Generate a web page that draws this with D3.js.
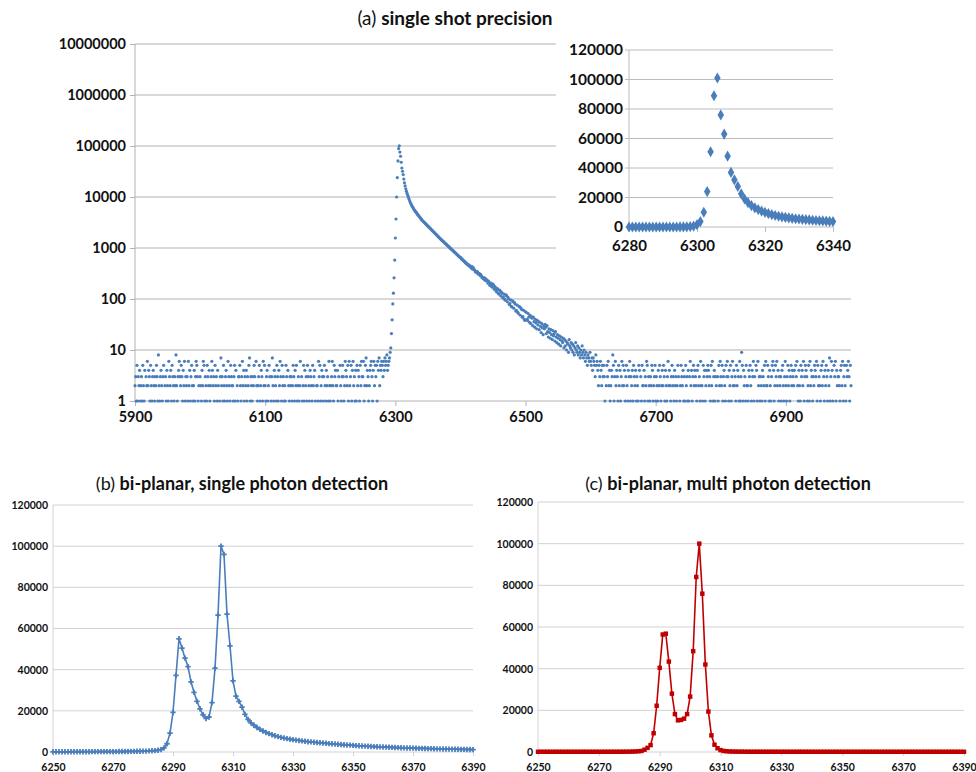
<!DOCTYPE html>
<html>
<head>
<meta charset="utf-8">
<script src="https://cdn.jsdelivr.net/npm/d3@7"></script>
<style>
  body { margin: 0; background: #fff; }
</style>
</head>
<body>
<div id="chart"></div>
<script>
const width = 976, height = 772;
const FONT = "Lato, 'Open Sans', sans-serif";

// ---- (a) single shot precision: counts per unit step ----
// noise floor 5900..6291, one digit per step (0 = no count)
const noiseLeftStart = 5900;
const noiseLeft =
  "2315132412" + "3152140326" + "2431521342" + "1325318213" + "4213502314" +
  "2163241532" + "1328213463" + "2531426132" + "3162413521" + "2413653120" +
  "3214265132" + "1532412364" + "2315231420" + "1372315213" + "4216321532" +
  "2135140213" + "3521362413" + "2413257132" + "1325306212" + "3512431625" +
  "2134125301" + "3721432153" + "1426315231" + "2153042132" + "3125314251" +
  "2312603125" + "1423153214" + "3215234102" + "2163512431" + "3521423162" +
  "1236215342" + "2413052135" + "3126432516" + "2351462314" + "1524315263" +
  "3612572431" + "2456314625" + "3516472546" + "5364756845" + "67";

// rise, peak and exponential tail 6292..6590
const peakStart = 6292;
const peakCounts = [
  9, 11, 21, 39, 80, 130, 260, 580, 1570, 3700,
  10000, 24000, 51000, 89000, 101000, 76000, 63000, 48000, 37000, 32000,
  27500, 22500, 19000, 16500, 14500, 13000, 11800, 10800, 9900, 9100,
  8400, 7800, 7300, 6900, 6500, 6200, 5900, 5600, 5400, 5200,
  5000, 4800, 4600, 4400, 4250, 4100, 3950, 3800, 3650, 3520,
  3420, 3310, 3220, 3120, 3030, 2940, 2850, 2770, 2690, 2610,
  2530, 2460, 2390, 2320, 2250, 2180, 2120, 2050, 1995, 1940,
  1880, 1830, 1770, 1720, 1670, 1620, 1570, 1530, 1480, 1440,
  1400, 1360, 1330, 1290, 1250, 1220, 1190, 1150, 1120, 1090,
  1065, 1030, 1005, 975, 950, 925, 900, 875, 850, 830,
  805, 785, 760, 740, 720, 700, 680, 665, 645, 640,
  605, 600, 570, 565, 540, 535, 510, 505, 485, 470,
  480, 450, 440, 445, 420, 400, 430, 385, 410, 375,
  365, 340, 350, 330, 345, 310, 320, 315, 290, 305,
  285, 265, 270, 250, 262, 238, 255, 228, 240, 232,
  205, 225, 215, 185, 195, 205, 175, 170, 195, 185,
  155, 175, 165, 140, 150, 160, 130, 125, 150, 145,
  115, 135, 130, 105, 110, 125, 98, 95, 120, 115,
  88, 108, 100, 78, 82, 96, 72, 70, 92, 88,
  66, 85, 80, 58, 60, 76, 55, 52, 72, 70,
  48, 66, 62, 44, 45, 60, 40, 38, 56, 55,
  40, 38, 52, 44, 35, 48, 33, 45, 42, 30,
  44, 36, 28, 40, 34, 26, 38, 31, 36, 25,
  35, 29, 22, 33, 27, 20, 30, 26, 32, 28,
  21, 30, 23, 18, 26, 22, 17, 25, 20, 16,
  24, 19, 21, 15, 23, 18, 14, 20, 17, 13,
  19, 16, 12, 18, 15, 14, 17, 11, 16, 12,
  15, 10, 14, 13, 9, 16, 12, 11, 14, 10,
  13, 9, 12, 8, 11, 14, 10, 9, 12, 8,
  11, 9, 7, 10, 8, 12, 9, 7, 10
];

// noise floor 6591..7000
const noiseRightStart = 6591;
const noiseRight =
  "8697587696" + "5747653856" + "4253642535" + "3102536241" + "2438513624" +
  "3152413625" + "2413521436" + "1324153241" + "3215403152" + "2413265132" +
  "1325412351" + "3214253124" + "2531421362" + "4213523142" + "3125301253" +
  "2413152314" + "1362413524" + "3214523162" + "2153412435" + "4231526134" +
  "1320315263" + "2513421536" + "3142513624" + "2315243161" + "3951423152" +
  "2143521436" + "1305416231" + "3214325162" + "2531421356" + "4125362413" +
  "2314521362" + "1352413524" + "3240536214" + "2153426135" + "4312516243" +
  "1325436152" + "3214526314" + "2531427136" + "4105361423" + "3214526135" +
  "2153463152";

const mainXTicks = [5900, 6100, 6300, 6500, 6700, 6900];
const mainYTicks = [1, 10, 100, 1000, 10000, 100000, 1000000, 10000000];
const insetXTicks = [6280, 6300, 6320, 6340];
const insetYTicks = [0, 20000, 40000, 60000, 80000, 100000, 120000];

// ---- (b) and (c): 6250..6390 ----
const bcStart = 6250;
const singlePhoton = [
  100, 100, 100, 110, 110, 110, 120, 120, 120, 130,
  130, 140, 140, 150, 150, 160, 160, 170, 180, 190,
  200, 210, 220, 240, 250, 270, 290, 310, 340, 370,
  400, 450, 520, 600, 700, 850, 1130, 2000, 4000, 9200,
  19200, 37200, 55000, 50500, 45600, 41500, 34100, 29000, 24600, 21000,
  18100, 16300, 17000, 24000, 40700, 66500, 100000, 96000, 67000, 51600,
  34600, 27100, 24600, 21800, 18300, 15800, 14200, 13000, 11900, 11000,
  10200, 9500, 8900, 8400, 7900, 7500, 7100, 6800, 6500, 6200,
  6000, 5800, 5600, 5400, 5200, 5000, 4900, 4750, 4600, 4500,
  4400, 4250, 4100, 3980, 3860, 3740, 3630, 3520, 3410, 3310,
  3200, 3110, 3020, 2930, 2850, 2770, 2690, 2620, 2550, 2480,
  2420, 2360, 2300, 2240, 2180, 2120, 2070, 2020, 1970, 1920,
  1870, 1830, 1790, 1750, 1710, 1670, 1630, 1590, 1550, 1510,
  1480, 1450, 1420, 1390, 1360, 1330, 1300, 1270, 1240, 1210,
  1180
];
const multiPhoton = [
  100, 100, 100, 100, 100, 100, 100, 100, 100, 100,
  100, 100, 100, 100, 100, 100, 100, 100, 100, 100,
  100, 100, 100, 100, 110, 110, 120, 120, 130, 140,
  150, 200, 250, 350, 500, 1100, 2000, 3300, 9000, 22200,
  40400, 56400, 56800, 43400, 28000, 18200, 15200, 15400, 16000, 18200,
  26600, 48400, 84000, 100000, 76000, 42000, 19400, 8000, 3500, 1800,
  900, 500, 350, 250, 200, 180, 160, 150, 140, 130,
  120, 120, 120, 120, 120, 120, 120, 120, 120, 120,
  110, 110, 110, 110, 110, 110, 110, 110, 110, 110,
  100, 100, 100, 100, 100, 100, 100, 100, 100, 100,
  100, 100, 100, 100, 100, 100, 100, 100, 100, 100,
  100, 100, 100, 100, 100, 100, 100, 100, 100, 100,
  100, 100, 100, 100, 100, 100, 100, 100, 100, 100,
  100, 100, 100, 100, 100, 100, 100, 100, 100, 100,
  100
];
const bcXTicks = [6250, 6270, 6290, 6310, 6330, 6350, 6370, 6390];
const bcYTicks = [0, 20000, 40000, 60000, 80000, 100000, 120000];

const blue = "#4a7ebb", red = "#c00000";

// build the (a) series
let mainData = [];
for (let i = 0; i < noiseLeft.length; i++) {
  const v = +noiseLeft[i];
  if (v > 0) mainData.push({ x: noiseLeftStart + i, y: v });
}
peakCounts.forEach((v, i) => mainData.push({ x: peakStart + i, y: v }));
for (let i = 0; i < noiseRight.length; i++) {
  const v = +noiseRight[i];
  if (v > 0) mainData.push({ x: noiseRightStart + i, y: v });
}

const svg = d3.select("#chart")
  .append("svg")
  .attr("width", width)
  .attr("height", height)
  .attr("viewBox", [0, 0, width, height])
  .style("font-family", FONT);

function title(x, y, tag, rest, size) {
  const t = svg.append("text").attr("x", x).attr("y", y)
    .attr("text-anchor", "middle").attr("fill", "#111")
    .style("font-size", size + "px");
  t.append("tspan").text(tag + " ");
  t.append("tspan").text(rest).style("font-weight", "bold");
}

function styleAxis(g, size, tickColor) {
  g.attr("font-family", FONT).attr("font-size", size);
  g.select(".domain").remove();
  g.selectAll(".tick line").attr("stroke", tickColor);
  g.selectAll(".tick text").attr("fill", "#111").style("font-weight", "bold");
}

// ================= (a) main log chart =================
title(455, 25, "(a)", "single shot precision", 19);

const xa = d3.scaleLinear().domain([5900, 7000]).range([135, 851]);
const ya = d3.scaleLog().domain([1, 1e7]).range([401, 44]);
const gridA = "#b2b2b2";

svg.append("g").selectAll("line")
  .data(mainYTicks)
  .join("line")
  .attr("x1", 135).attr("x2", 851)
  .attr("y1", d => ya(d)).attr("y2", d => ya(d))
  .attr("stroke", gridA);

svg.append("line")
  .attr("x1", 135).attr("x2", 135)
  .attr("y1", ya(1e7)).attr("y2", ya(1))
  .attr("stroke", gridA);

svg.append("g")
  .attr("transform", "translate(135,0)")
  .call(d3.axisLeft(ya).tickValues(mainYTicks).tickFormat(d3.format("d")).tickSize(5).tickPadding(4))
  .call(g => styleAxis(g, 14.5, gridA));

svg.append("g")
  .attr("transform", `translate(0,${ya(1)})`)
  .call(d3.axisBottom(xa).tickValues(mainXTicks).tickFormat(d3.format("d")).tickSize(5).tickPadding(6))
  .call(g => styleAxis(g, 14.5, gridA));

svg.append("g")
  .selectAll("circle")
  .data(mainData)
  .join("circle")
  .attr("cx", d => xa(d.x))
  .attr("cy", d => ya(d.y))
  .attr("r", 1.6)
  .attr("fill", blue);

// ---- inset (linear) ----
svg.append("rect")
  .attr("x", 556).attr("y", 33).attr("width", 310).attr("height", 234)
  .attr("fill", "#fff");

const xi = d3.scaleLinear().domain([6280, 6340]).range([629, 833]);
const yi = d3.scaleLinear().domain([0, 120000]).range([227, 50]);
const insetData = mainData.filter(d => d.x >= 6280 && d.x <= 6340);

svg.append("g").selectAll("line")
  .data(insetYTicks)
  .join("line")
  .attr("x1", 625).attr("x2", 833)
  .attr("y1", d => yi(d)).attr("y2", d => yi(d))
  .attr("stroke", "#bcbcbc");

svg.append("line")
  .attr("x1", 629).attr("x2", 629)
  .attr("y1", yi(120000)).attr("y2", yi(0))
  .attr("stroke", "#bcbcbc");

svg.append("g")
  .attr("transform", "translate(629,0)")
  .call(d3.axisLeft(yi).tickValues(insetYTicks).tickFormat(d3.format("d")).tickSize(0).tickPadding(6))
  .call(g => styleAxis(g, 15.5, "#bcbcbc"));

svg.append("g")
  .attr("transform", `translate(0,${yi(0)})`)
  .call(d3.axisBottom(xi).tickValues(insetXTicks).tickFormat(d3.format("d")).tickSize(5).tickPadding(8))
  .call(g => styleAxis(g, 15, "#bcbcbc"));

svg.append("g")
  .selectAll("path")
  .data(insetData)
  .join("path")
  .attr("transform", d => `translate(${xi(d.x)},${yi(d.y)})`)
  .attr("d", d3.symbol(d3.symbolDiamond, 36))
  .attr("fill", blue);

// ================= (b) and (c) line panels =================
function linePanel(cfg) {
  const x = d3.scaleLinear().domain([6250, 6390]).range([cfg.left, cfg.right]);
  const y = d3.scaleLinear().domain([0, 120000]).range([cfg.bottom, cfg.top]);
  const data = cfg.values.map((v, i) => ({ x: bcStart + i, y: v }));
  const grid = "#d2d2d2";

  svg.append("g").selectAll("line")
    .data(bcYTicks)
    .join("line")
    .attr("x1", cfg.left).attr("x2", cfg.right)
    .attr("y1", d => y(d)).attr("y2", d => y(d))
    .attr("stroke", grid);

  svg.append("line")
    .attr("x1", cfg.left).attr("x2", cfg.left)
    .attr("y1", cfg.top).attr("y2", cfg.bottom)
    .attr("stroke", grid);

  svg.append("g")
    .attr("transform", `translate(${cfg.left},0)`)
    .call(d3.axisLeft(y).tickValues(bcYTicks).tickFormat(d3.format("d")).tickSize(0).tickPadding(5))
    .call(g => styleAxis(g, 10.5, grid));

  svg.append("g")
    .attr("transform", `translate(0,${cfg.bottom})`)
    .call(d3.axisBottom(x).tickValues(bcXTicks).tickFormat(d3.format("d")).tickSize(4).tickPadding(8))
    .call(g => styleAxis(g, 10.5, grid));

  svg.append("path")
    .datum(data)
    .attr("fill", "none")
    .attr("stroke", cfg.color)
    .attr("stroke-width", 1.6)
    .attr("d", d3.line().x(d => x(d.x)).y(d => y(d.y)));

  svg.append("g")
    .selectAll("path")
    .data(data)
    .join("path")
    .attr("transform", d => `translate(${x(d.x)},${y(d.y)})`)
    .attr("d", d3.symbol(cfg.symbol, cfg.size))
    .attr("fill", cfg.color);
}

title(242, 490, "(b)", "bi-planar, single photon detection", 18);
linePanel({ left: 53, right: 473, top: 505, bottom: 752,
  values: singlePhoton, color: blue, symbol: d3.symbolCross, size: 16 });

title(728, 490, "(c)", "bi-planar, multi photon detection", 18);
linePanel({ left: 538, right: 964, top: 502, bottom: 752,
  values: multiPhoton, color: red, symbol: d3.symbolSquare, size: 20 });
</script>
</body>
</html>
